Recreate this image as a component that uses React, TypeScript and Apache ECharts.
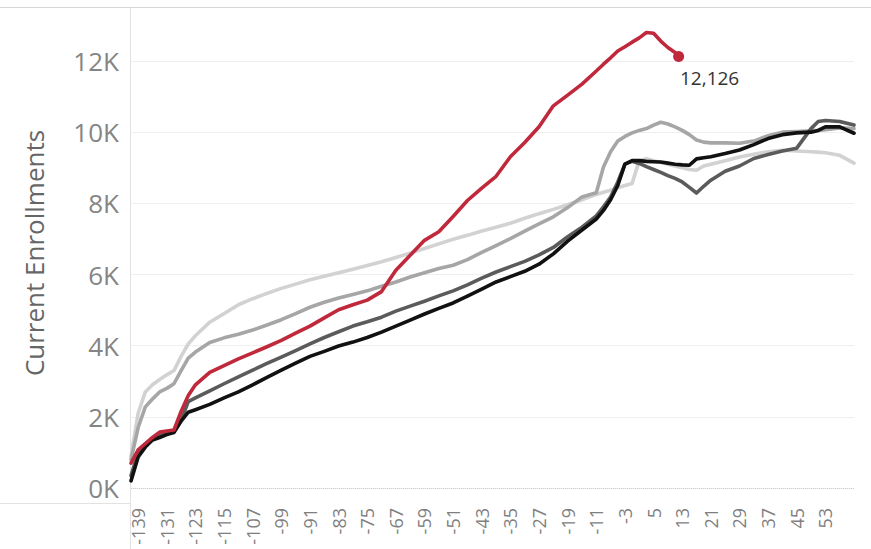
import React, { useEffect, useRef } from "react";
import * as echarts from "echarts";

// Days relative to start (shared sample days for prior-year series)
const days = [-141,-139,-137,-135,-133,-131,-129,-127,-125,-123,-119,-115,-111,-107,-103,-99,-95,-91,-87,-83,-79,-75,-71,-67,-63,-59,-55,-51,-47,-43,-39,-35,-31,-27,-23,-19,-15,-11,-9,-7,-5,-3,-1,1,3,5,7,9,11,13,15,17,19,21,25,29,33,37,41,45,49,51,53,57,61];

const blackSeries = [200,870,1150,1350,1420,1500,1560,1880,2130,2200,2350,2530,2700,2900,3110,3310,3510,3700,3840,3990,4100,4230,4380,4550,4720,4890,5050,5200,5390,5590,5790,5940,6090,6290,6580,6940,7250,7560,7800,8100,8500,9100,9200,9200,9180,9170,9160,9130,9100,9080,9070,9250,9280,9310,9400,9500,9650,9820,9930,9980,10000,10050,10150,10150,9970];

const darkGraySeries = [350,1000,1200,1380,1470,1540,1600,1900,2430,2530,2730,2930,3120,3310,3500,3680,3860,4050,4230,4390,4550,4670,4800,4970,5110,5250,5400,5540,5710,5900,6070,6220,6370,6550,6760,7060,7330,7650,7900,8180,8600,9100,9180,9120,9030,8950,8870,8780,8700,8600,8450,8290,8480,8650,8900,9050,9260,9370,9470,9550,10100,10300,10330,10300,10200];

const midGraySeries = [800,1700,2280,2500,2700,2800,2930,3300,3650,3820,4090,4220,4320,4440,4580,4730,4900,5080,5220,5340,5440,5540,5670,5790,5930,6050,6170,6260,6420,6620,6810,7010,7220,7420,7620,7880,8180,8300,9020,9450,9750,9880,9980,10050,10100,10200,10280,10230,10150,10050,9930,9780,9720,9700,9700,9690,9750,9900,10000,10020,10040,10050,10070,10120,10100];

const lightGraySeries = [900,2100,2700,2900,3050,3180,3300,3700,4050,4280,4660,4900,5150,5320,5470,5610,5730,5850,5950,6050,6150,6250,6360,6480,6600,6730,6860,6990,7100,7220,7330,7440,7580,7710,7830,7960,8100,8250,8310,8370,8440,8500,8560,9200,9250,9200,9150,9100,9050,9000,8950,8930,9050,9100,9200,9300,9380,9450,9490,9470,9450,9440,9420,9350,9130];

// Current year
const currentDays = [-141,-139,-137,-135,-133,-131,-129,-127,-125,-123,-119,-115,-111,-107,-103,-99,-95,-91,-87,-83,-79,-75,-71,-67,-63,-59,-55,-51,-47,-43,-39,-35,-31,-27,-23,-19,-15,-11,-9,-7,-5,-3,-1,1,3,5,7,9,11,12];
const currentSeries = [700,1070,1250,1420,1570,1600,1630,2150,2600,2900,3250,3440,3630,3800,3970,4150,4350,4550,4780,5010,5150,5280,5520,6120,6540,6960,7200,7630,8080,8430,8760,9310,9710,10150,10740,11040,11350,11720,11910,12090,12280,12400,12530,12650,12800,12780,12560,12380,12240,12126];

const xTickLabels = [-139,-131,-123,-115,-107,-99,-91,-83,-75,-67,-59,-51,-43,-35,-27,-19,-11,-3,5,13,21,29,37,45,53];
const yTicks = [0, 2000, 4000, 6000, 8000, 10000, 12000];
const yTitle = "Current Enrollments";

const FONT = "'Open Sans', 'Noto Sans', sans-serif";

const pair = (xs: number[], ys: number[]) => xs.map((x, i) => [x, ys[i]]);

export default function App() {
  const ref = useRef<HTMLDivElement>(null);
  useEffect(() => {
    if (!ref.current) return;
    const chart = echarts.init(ref.current, null, { renderer: "svg" });
    const lineSeries = (name: string, xs: number[], ys: number[], color: string, z: number) => ({
      name,
      type: "line",
      data: pair(xs, ys),
      showSymbol: false,
      symbol: "none",
      clip: false,
      z,
      lineStyle: { color, width: 3.6, join: "round", cap: "round" },
      emphasis: { disabled: true },
    });
    const lastIdx = currentSeries.length - 1;
    chart.setOption({
      animation: false,
      backgroundColor: "#ffffff",
      grid: { left: 131, right: 17, top: 61, bottom: 61, containLabel: false },
      xAxis: {
        type: "value",
        min: -141,
        max: 61,
        axisLine: { show: false },
        axisTick: { show: false },
        splitLine: { show: false },
        axisLabel: {
          customValues: xTickLabels,
          rotate: 90,
          margin: 20,
          fontSize: 18,
          color: "#7f7f7f",
          fontFamily: FONT,
        },
      },
      yAxis: {
        type: "value",
        min: 0,
        max: 12000,
        interval: 2000,
        axisLine: { show: false },
        axisTick: { show: false },
        splitLine: { show: true, lineStyle: { color: "#efefef", width: 1 } },
        axisLabel: {
          margin: 12,
          fontSize: 26,
          color: "#858585",
          fontFamily: FONT,
          formatter: (v: number) => (yTicks.includes(v) ? `${v / 1000}K` : ""),
        },
      },
      graphic: [
        { type: "line", shape: { x1: 0, y1: 7.5, x2: 871, y2: 7.5 }, style: { stroke: "#d6d6d6", lineWidth: 1 }, silent: true },
        { type: "line", shape: { x1: 130.5, y1: 8, x2: 130.5, y2: 549 }, style: { stroke: "#e2e2e2", lineWidth: 1 }, silent: true },
        { type: "line", shape: { x1: 0, y1: 503.5, x2: 131, y2: 503.5 }, style: { stroke: "#e2e2e2", lineWidth: 1 }, silent: true },
        {
          type: "text",
          x: 34,
          y: 253,
          rotation: Math.PI / 2,
          silent: true,
          style: {
            text: yTitle,
            fontSize: 26,
            fontFamily: FONT,
            fill: "#666666",
            align: "center",
            verticalAlign: "middle",
          },
        },
      ],
      series: [
        {
          ...lineSeries("Light", days, lightGraySeries, "#d2d2d2", 1),
          markLine: {
            silent: true,
            symbol: "none",
            label: { show: false },
            lineStyle: { color: "#cfcfcf", type: "dotted", width: 1 },
            data: [{ yAxis: 0 }],
          },
        },
        lineSeries("Mid", days, midGraySeries, "#a6a6a6", 2),
        lineSeries("Dark", days, darkGraySeries, "#5b5b5b", 3),
        lineSeries("Black", days, blackSeries, "#111111", 4),
        lineSeries("Current", currentDays, currentSeries, "#c0283c", 5),
        {
          name: "CurrentEnd",
          type: "scatter",
          z: 6,
          clip: false,
          symbol: "circle",
          symbolSize: 11,
          itemStyle: { color: "#c0283c", opacity: 1 },
          data: [[currentDays[lastIdx], currentSeries[lastIdx]]],
          label: {
            show: true,
            position: "bottom",
            distance: 6,
            offset: [31, 0],
            formatter: (p: any) => Number(p.value[1]).toLocaleString("en-US"),
            fontSize: 19,
            color: "#333333",
            fontFamily: FONT,
          },
          emphasis: { disabled: true },
        },
      ],
    });
    return () => chart.dispose();
  }, []);
  return <div ref={ref} style={{ position: "fixed", left: 0, top: 0, width: 871, height: 549 }} />;
}
